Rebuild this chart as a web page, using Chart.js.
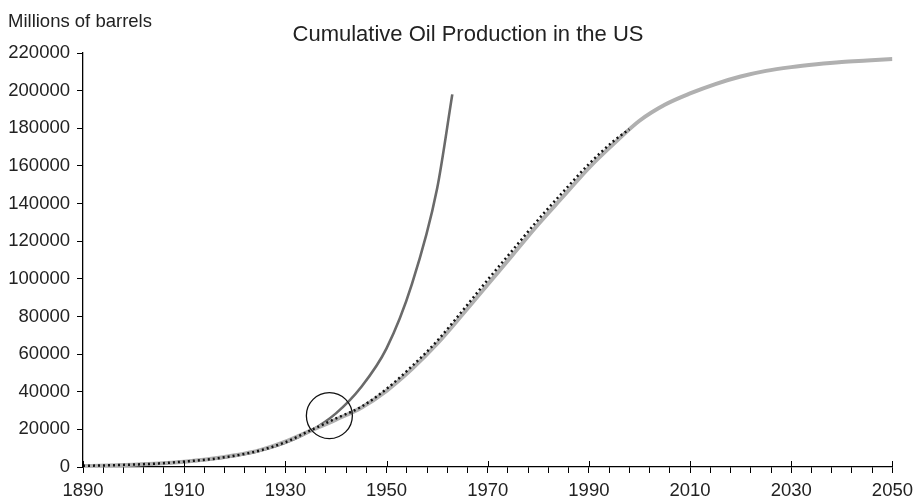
<!DOCTYPE html>
<html>
<head>
<meta charset="utf-8">
<title>Cumulative Oil Production in the US</title>
<script src="https://cdn.jsdelivr.net/npm/chart.js@4.4.1/dist/chart.umd.min.js"></script>
<style>
  html, body { margin: 0; padding: 0; background: #fff; }
  #wrap { width: 920px; height: 500px; position: relative; }
</style>
</head>
<body>
<div id="wrap"><canvas id="oil-chart" width="920" height="500"></canvas></div>
<script>
    "use strict";

    // Data (millions of barrels)
    var chartTitle = "Cumulative Oil Production in the US";
    var yTitle = "Millions of barrels";

    // Logistic fit (light grey)
    var fitYears = [1890, 1895, 1900, 1905, 1910, 1915, 1920, 1925, 1930, 1935, 1940, 1945, 1950, 1955, 1960,
                    1965, 1970, 1975, 1980, 1985, 1990, 1995, 2000, 2005, 2010, 2015, 2020, 2025, 2030, 2035,
                    2040, 2045, 2050];
    var fitValues = [500, 800, 1200, 1800, 2800, 4200, 6200, 9000, 13500, 19300, 25200, 31500, 40500, 52000, 65500,
                     81000, 97000, 113000, 129000, 144000, 159000, 172000, 184000, 192500, 198500, 203500, 207500,
                     210500, 212500, 214000, 215200, 216000, 216800];

    // Exponential trend (dark grey)
    var expYears = [1890, 1895, 1900, 1905, 1910, 1915, 1920, 1925, 1930, 1935, 1940, 1945, 1950, 1955, 1960, 1963];
    var expValues = [500, 800, 1200, 1800, 2700, 4000, 5900, 8600, 12800, 19200, 28500, 42500, 63000, 97000,
                     148000, 198000];

    // Actual production (dotted)
    var actualYears = [1890, 1895, 1900, 1905, 1910, 1915, 1920, 1925, 1930, 1935, 1940, 1945, 1950, 1955, 1960,
                       1965, 1970, 1975, 1980, 1985, 1990, 1995, 1998];
    var actualValues = [600, 900, 1300, 1900, 2900, 4100, 6000, 8800, 13200, 19500, 25800, 32000, 41500, 53500,
                        67000, 83000, 99500, 115500, 131500, 146500, 161000, 173500, 179500];

    // Circled point where the curves part
    var circleYear = [1938.7];
    var circleValue = [27300];

    function toPoints(xs, ys) {
        return xs.map(function (x, i) { return {x: x, y: ys[i]}; });
    }

    var FONT = "'Liberation Sans', Arial, Helvetica, sans-serif";
    var TEXT = "#222222";

    // Title and axis caption
    var textPlugin = {
        id: "textPlugin",
        afterDraw: function (chart) {
            var ctx = chart.ctx;
            ctx.save();
            ctx.fillStyle = TEXT;
            ctx.textBaseline = "middle";
            ctx.font = "18.5px " + FONT;
            ctx.textAlign = "left";
            ctx.fillText(yTitle, 8, 22);
            ctx.font = "22px " + FONT;
            ctx.textAlign = "center";
            ctx.fillText(chartTitle, 468, 35);
            ctx.restore();
        }
    };

    // Major x ticks poke up above the axis line
    var majorTickPlugin = {
        id: "majorTicks",
        afterDraw: function (chart) {
            var xs = chart.scales.x, ctx = chart.ctx, bottom = chart.chartArea.bottom;
            ctx.save();
            ctx.strokeStyle = "#000";
            ctx.lineWidth = 1;
            xs.ticks.forEach(function (t) {
                if ((t.value - 1890) % 20 === 0) {
                    var px = Math.round(xs.getPixelForValue(t.value)) + 0.5;
                    ctx.beginPath();
                    ctx.moveTo(px, bottom - 6);
                    ctx.lineTo(px, bottom);
                    ctx.stroke();
                }
            });
            ctx.restore();
        }
    };

    var ctx1 = document.getElementById("oil-chart").getContext("2d");
    var myChart1 = new Chart(ctx1, {
        type: "line",
        data: {
            datasets: [{
                    label: "Circle",
                    type: "scatter",
                    data: toPoints(circleYear, circleValue),
                    pointRadius: 23,
                    pointHoverRadius: 23,
                    pointBorderWidth: 1.3,
                    borderColor: "#111",
                    backgroundColor: "rgba(0,0,0,0)",
                    order: 0
                },
                {
                    label: "Actual",
                    data: toPoints(actualYears, actualValues),
                    borderColor: "#111",
                    borderWidth: 2.5,
                    borderDash: [2, 3],
                    pointRadius: 0,
                    cubicInterpolationMode: "monotone",
                    order: 1
                },
                {
                    label: "Logistic",
                    data: toPoints(fitYears, fitValues),
                    borderColor: "#b0b0b0",
                    borderWidth: 4,
                    pointRadius: 0,
                    cubicInterpolationMode: "monotone",
                    order: 2
                },
                {
                    label: "Exponential",
                    data: toPoints(expYears, expValues),
                    borderColor: "#6a6a6a",
                    borderWidth: 2.6,
                    pointRadius: 0,
                    cubicInterpolationMode: "monotone",
                    order: 3
                }
            ]
        },
        options: {
            responsive: false,
            animation: false,
            layout: {
                padding: {top: 53, right: 24, left: 0, bottom: 0}
            },
            plugins: {
                legend: {display: false},
                tooltip: {enabled: false}
            },
            scales: {
                x: {
                    type: "linear",
                    min: 1890,
                    max: 2050,
                    afterFit: function (scale) { scale.height = 33; },
                    border: {display: true, color: "#000", width: 1.3},
                    grid: {drawOnChartArea: false, tickLength: 6, color: "#000", lineWidth: 1},
                    ticks: {
                        stepSize: 4,
                        autoSkip: false,
                        maxRotation: 0,
                        padding: 7,
                        color: TEXT,
                        font: {family: FONT, size: 18.5},
                        callback: function (v) { return (v - 1890) % 20 === 0 ? String(v) : ""; }
                    }
                },
                y: {
                    min: 0,
                    max: 220000,
                    afterFit: function (scale) { scale.width = 83; },
                    border: {display: true, color: "#000", width: 1.3},
                    grid: {drawOnChartArea: false, tickLength: 6, color: "#000", lineWidth: 1},
                    ticks: {
                        stepSize: 20000,
                        padding: 7,
                        color: TEXT,
                        font: {family: FONT, size: 18.5},
                        callback: function (v) { return String(v); }
                    }
                }
            }
        },
        plugins: [textPlugin, majorTickPlugin]
    });
</script>
</body>
</html>
